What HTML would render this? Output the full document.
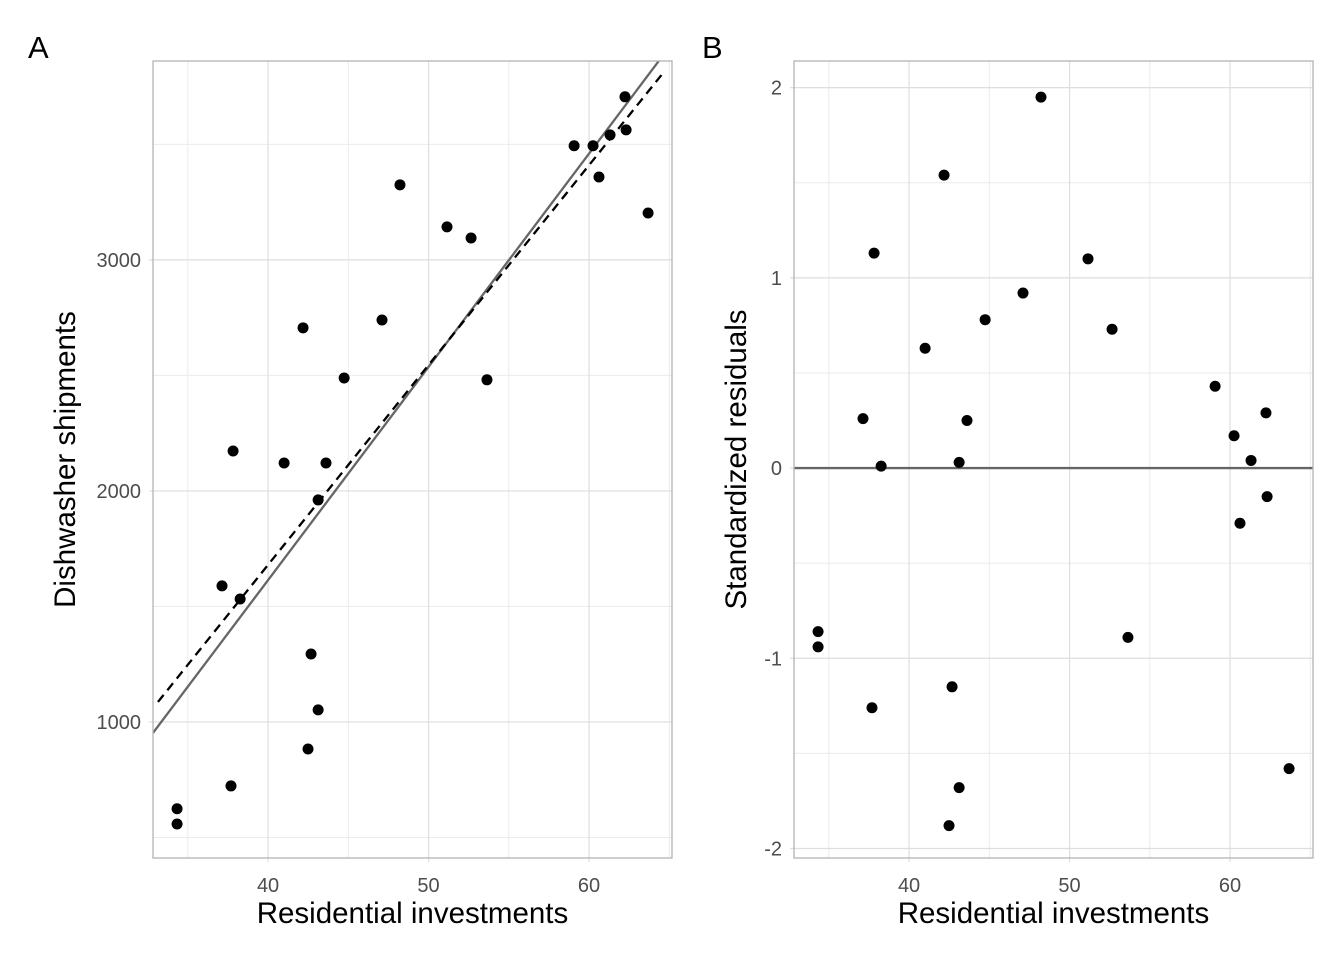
<!DOCTYPE html>
<html><head><meta charset="utf-8"><style>
body{margin:0;background:#fff}
svg text{font-family:"Liberation Sans",sans-serif}
</style></head><body>
<svg id="c" width="1344" height="960" xmlns="http://www.w3.org/2000/svg"></svg>
<script>
const invest=[34.33,34.33,37.13,37.69,37.82,38.26,41.0,42.18,42.49,42.68,43.12,43.12,43.61,44.74,47.10,48.22,51.15,52.65,53.64,59.07,60.25,60.62,61.31,62.24,62.31,63.68];
const shipments=[624,558,1589,723,2173,1532,2121,2706,883,1294,1961,1052,2121,2489,2740,3325,3143,3095,2481,3494,3494,3359,3541,3706,3563,3203];
const residuals=[-0.86,-0.94,0.26,-1.26,1.13,0.01,0.63,1.54,-1.88,-1.15,0.03,-1.68,0.25,0.78,0.92,1.95,1.10,0.73,-0.89,0.43,0.17,-0.29,0.04,0.29,-0.15,-1.58];
const xTicks=[40,50,60], xMinor=[35,45,55,65];
const yTicksA=[1000,2000,3000], yMinorA=[500,1500,2500,3500];
const yTicksB=[-2,-1,0,1,2], yMinorB=[-1.5,-0.5,0.5,1.5];
const fitSolid=[-2078,92.3], fitDashed=[-1780,86.5];
const dashedRange=[33.14,64.67];
const NS="http://www.w3.org/2000/svg", svg=document.getElementById('c');
function el(t,a,p){const e=document.createElementNS(NS,t);for(const k in a)e.setAttribute(k,a[k]);(p||svg).appendChild(e);return e;}
function panel(o){
  const g=el('g',{});
  
  
  const sx=v=>o.x0+(v-o.xd[0])/(o.xd[1]-o.xd[0])*(o.x1-o.x0);
  const sy=v=>o.y1-(v-o.yd[0])/(o.yd[1]-o.yd[0])*(o.y1-o.y0);
  o.yMinor.forEach(v=>{const l=el('line',{x1:o.x0,x2:o.x1,y1:sy(v),y2:sy(v),stroke:'#ebebeb','stroke-width':1},g);});
  xMinor.forEach(v=>{const l=el('line',{x1:sx(v),x2:sx(v),y1:o.y0,y2:o.y1,stroke:'#ebebeb','stroke-width':1},g);});
  o.yTicks.forEach(v=>{const l=el('line',{x1:o.x0-4,x2:o.x1,y1:sy(v),y2:sy(v),stroke:'#dedede','stroke-width':1.2},g);
    const t=el('text',{x:o.x0-12,y:sy(v)+7,'text-anchor':'end','font-size':20,fill:'#4d4d4d'},g);t.textContent=v;});
  xTicks.forEach(v=>{const l=el('line',{x1:sx(v),x2:sx(v),y1:o.y0,y2:o.y1+4,stroke:'#dedede','stroke-width':1.2},g);
    const t=el('text',{x:sx(v),y:892,'text-anchor':'middle','font-size':20,fill:'#4d4d4d'},g);t.textContent=v;});
  const cp='clip'+o.name;const c=el('clipPath',{id:cp},g);el('rect',{x:o.x0,y:o.y0,width:o.x1-o.x0,height:o.y1-o.y0},c);
  o.lines.forEach(L=>{const a=L.f[0],b=L.f[1];const r=L.r||o.xd;const l=el('line',{x1:sx(r[0]),y1:sy(a+b*r[0]),x2:sx(r[1]),y2:sy(a+b*r[1]),stroke:L.c,'stroke-width':2.3,'stroke-dasharray':L.d||'none','clip-path':'url(#'+cp+')'},g);});
  invest.forEach((x,i)=>{const p=el('circle',{cx:sx(x),cy:sy(o.ys[i]),r:5.5,fill:'#000'},g);});
  const fr=el('rect',{x:o.x0,y:o.y0,width:o.x1-o.x0,height:o.y1-o.y0,fill:'none',stroke:'#b3b3b3','stroke-width':1.3},g);
  const xt=el('text',{x:(o.x0+o.x1)/2,y:923,'text-anchor':'middle','font-size':29.5,fill:'#000'},g);xt.textContent='Residential investments';
  const yt=el('text',{x:0,y:0,transform:'translate('+o.ytx+','+(o.y0+o.y1)/2+') rotate(-90)','text-anchor':'middle','font-size':29.5,fill:'#000'},g);yt.textContent=o.ytitle;
  const lb=el('text',{x:o.lx,y:58,'font-size':31,fill:'#000'},g);lb.textContent=o.label;
}
panel({name:'panel-a',x0:153,x1:672,y0:61,y1:858,xd:[32.83,65.17],yd:[411,3861],yTicks:yTicksA,yMinor:yMinorA,ys:shipments,
  lines:[{f:fitSolid,c:'#666',n:'fit-line-solid'},{f:fitDashed,c:'#000',d:'9,6',n:'fit-line-dashed',r:dashedRange}],ytitle:'Dishwasher shipments',ytx:75,label:'A',lx:28});
panel({name:'panel-b',x0:794,x1:1313,y0:61,y1:858,xd:[32.83,65.17],yd:[-2.05,2.14],yTicks:yTicksB,yMinor:yMinorB,ys:residuals,
  lines:[{f:[0,0],c:'#666',n:'zero-line'}],ytitle:'Standardized residuals',ytx:746,label:'B',lx:702});
</script>
</body></html>
